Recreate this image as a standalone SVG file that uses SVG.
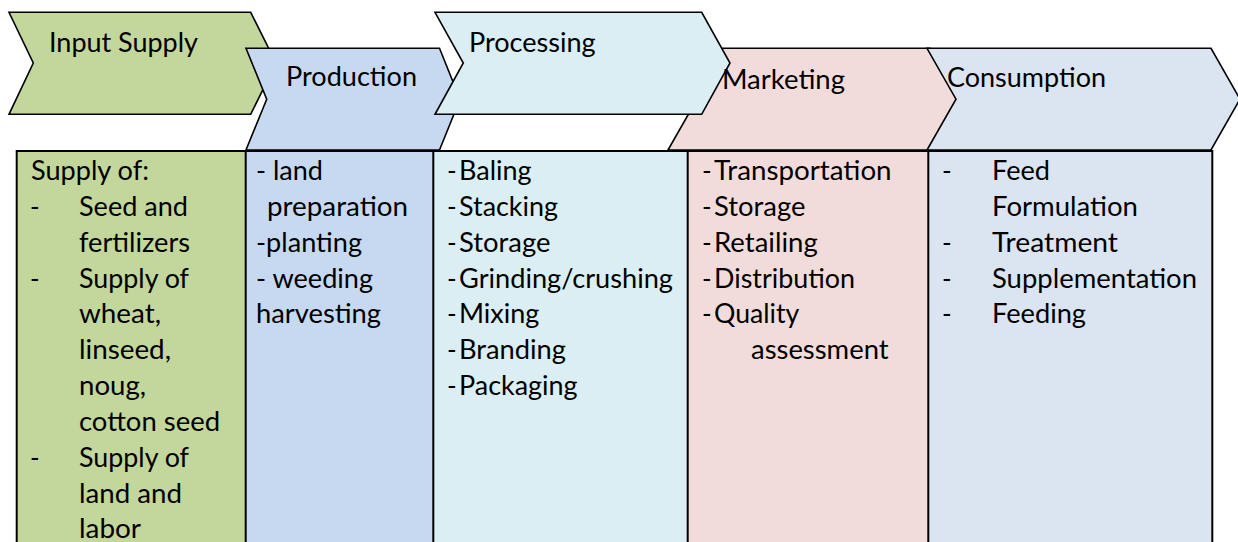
<svg xmlns="http://www.w3.org/2000/svg" width="1238" height="542" viewBox="0 0 1238 542">
<style>
.chev{stroke:#000;stroke-width:1.6;stroke-linejoin:miter}
.t{font-family:Lato,"Open Sans","Liberation Sans",sans-serif;font-size:26px;fill:#000}
.grid{fill:none;stroke:#000;stroke-width:2}
.g{fill:#C3D69B}.b{fill:#C6D9F1}.a{fill:#DAEEF3}.p{fill:#F2DCDB}.c{fill:#DBE5F1}
</style>
<rect width="1238" height="542" fill="#fff"/>
<g id="chevrons">
<g id="chevron-input"><polygon class="chev g" points="9,12.3 250.7,12.3 276,63 250.7,114.3 9,114.3 33.3,63"/></g>
<g id="chevron-production"><polygon class="chev b" points="246,48.3 439.5,48.3 460,99.2 439.5,150 246,150 266.7,99.2"/></g>
<g id="chevron-marketing"><polygon class="chev p" points="668,48.3 930,48.3 959,99.2 930,150 668,150 697,99.2"/></g>
<g id="chevron-processing"><polygon class="chev a" points="435,12.3 701.7,12.3 730,63 701.7,114.3 435,114.3 463.3,63"/></g>
<g id="chevron-consumption"><polygon class="chev c" points="927,48.3 1211,48.3 1240,99.2 1211,150 927,150 956,99.2"/></g>
</g>
<g id="connectors"/>
<g id="col-input">
<rect class="g" x="16.7" y="151" width="229" height="400"/>
<text class="t" x="31" y="180" textLength="118" lengthAdjust="spacingAndGlyphs">Supply of:</text>
<text class="t" x="30" y="215.8">-</text>
<text class="t" x="79" y="215.8" textLength="109" lengthAdjust="spacingAndGlyphs">Seed and</text>
<text class="t" x="79" y="251.7" textLength="111" lengthAdjust="spacingAndGlyphs">fertilizers</text>
<text class="t" x="30" y="287.5">-</text>
<text class="t" x="79" y="287.5" textLength="110" lengthAdjust="spacingAndGlyphs">Supply of</text>
<text class="t" x="79" y="323.3" textLength="82" lengthAdjust="spacingAndGlyphs">wheat,</text>
<text class="t" x="79" y="359.2" textLength="92" lengthAdjust="spacingAndGlyphs">linseed,</text>
<text class="t" x="79" y="395" textLength="67" lengthAdjust="spacingAndGlyphs">noug,</text>
<text class="t" x="79" y="430.8" textLength="141" lengthAdjust="spacingAndGlyphs">cotton seed</text>
<text class="t" x="30" y="466.7">-</text>
<text class="t" x="79" y="466.7" textLength="110" lengthAdjust="spacingAndGlyphs">Supply of</text>
<text class="t" x="79" y="502.5" textLength="103" lengthAdjust="spacingAndGlyphs">land and</text>
<text class="t" x="79" y="538.3" textLength="62" lengthAdjust="spacingAndGlyphs">labor</text>
</g>
<g id="col-production">
<rect class="b" x="245.7" y="151" width="187.6" height="400"/>
<text class="t" x="256" y="180" textLength="67" lengthAdjust="spacingAndGlyphs">- land</text>
<text class="t" x="267" y="215.8" textLength="141" lengthAdjust="spacingAndGlyphs">preparation</text>
<text class="t" x="256" y="251.7" textLength="106" lengthAdjust="spacingAndGlyphs">-planting</text>
<text class="t" x="256" y="287.5" textLength="117" lengthAdjust="spacingAndGlyphs">- weeding</text>
<text class="t" x="256" y="323.3" textLength="125" lengthAdjust="spacingAndGlyphs">harvesting</text>
</g>
<g id="col-processing">
<rect class="a" x="433.3" y="151" width="254.4" height="400"/>
<text class="t" x="447" y="180">-</text><text class="t" x="459" y="180" textLength="72.6" lengthAdjust="spacingAndGlyphs">Baling</text>
<text class="t" x="447" y="215.8">-</text><text class="t" x="459" y="215.8" textLength="99" lengthAdjust="spacingAndGlyphs">Stacking</text>
<text class="t" x="447" y="251.7">-</text><text class="t" x="459" y="251.7" textLength="91.4" lengthAdjust="spacingAndGlyphs">Storage</text>
<text class="t" x="447" y="287.5">-</text><text class="t" x="459" y="287.5" textLength="214" lengthAdjust="spacingAndGlyphs">Grinding/crushing</text>
<text class="t" x="447" y="323.3">-</text><text class="t" x="459" y="323.3" textLength="80.3" lengthAdjust="spacingAndGlyphs">Mixing</text>
<text class="t" x="447" y="359.2">-</text><text class="t" x="459" y="359.2" textLength="107" lengthAdjust="spacingAndGlyphs">Branding</text>
<text class="t" x="447" y="395">-</text><text class="t" x="459" y="395" textLength="118.6" lengthAdjust="spacingAndGlyphs">Packaging</text>
</g>
<g id="col-marketing">
<rect class="p" x="687.7" y="151" width="240.6" height="400"/>
<text class="t" x="702" y="180">-</text><text class="t" x="714" y="180" textLength="177.6" lengthAdjust="spacingAndGlyphs">Transportation</text>
<text class="t" x="702" y="215.8">-</text><text class="t" x="714" y="215.8" textLength="91.4" lengthAdjust="spacingAndGlyphs">Storage</text>
<text class="t" x="702" y="251.7">-</text><text class="t" x="714" y="251.7" textLength="103.7" lengthAdjust="spacingAndGlyphs">Retailing</text>
<text class="t" x="702" y="287.5">-</text><text class="t" x="714" y="287.5" textLength="141" lengthAdjust="spacingAndGlyphs">Distribution</text>
<text class="t" x="702" y="323.3">-</text><text class="t" x="714" y="323.3" textLength="85.3" lengthAdjust="spacingAndGlyphs">Quality</text>
<text class="t" x="751" y="359.2" textLength="137.6" lengthAdjust="spacingAndGlyphs">assessment</text>
</g>
<g id="col-consumption">
<rect class="c" x="928.3" y="151" width="284" height="400"/>
<text class="t" x="942" y="180">-</text><text class="t" x="992" y="180" textLength="58" lengthAdjust="spacingAndGlyphs">Feed</text>
<text class="t" x="992" y="215.8" textLength="146" lengthAdjust="spacingAndGlyphs">Formulation</text>
<text class="t" x="942" y="251.7">-</text><text class="t" x="992" y="251.7" textLength="126" lengthAdjust="spacingAndGlyphs">Treatment</text>
<text class="t" x="942" y="287.5">-</text><text class="t" x="992" y="287.5" textLength="205" lengthAdjust="spacingAndGlyphs">Supplementation</text>
<text class="t" x="942" y="323.3">-</text><text class="t" x="992" y="323.3" textLength="94" lengthAdjust="spacingAndGlyphs">Feeding</text>
</g>
<g id="table-grid">
<path class="grid" d="M16.7,560 V151 H1212.3 V560 M245.7,151 V560 M433.3,151 V560 M687.7,151 V560 M928.3,151 V560"/>
</g>
<g id="chevron-labels">
<text id="label-input" class="t" x="49" y="52" textLength="149" lengthAdjust="spacingAndGlyphs">Input Supply</text>
<text id="label-production" class="t" x="286" y="86" textLength="131" lengthAdjust="spacingAndGlyphs">Production</text>
<text id="label-processing" class="t" x="469" y="52" textLength="126.6" lengthAdjust="spacingAndGlyphs">Processing</text>
<text id="label-marketing" class="t" x="722" y="88.5" textLength="123" lengthAdjust="spacingAndGlyphs">Marketing</text>
<text id="label-consumption" class="t" x="947" y="87" textLength="159" lengthAdjust="spacingAndGlyphs">Consumption</text>
</g>
</svg>
